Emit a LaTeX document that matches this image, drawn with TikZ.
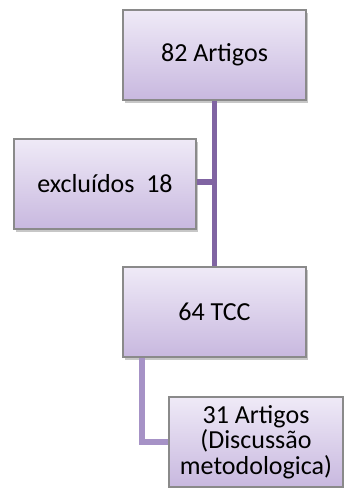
\documentclass[tikz,border=0pt]{standalone}
\usepackage{fontspec}
\setmainfont{Carlito}
\definecolor{boxtop}{HTML}{EFEAF7}
\definecolor{boxbot}{HTML}{C8B8DF}
\definecolor{boxedge}{HTML}{8A8A8A}
\definecolor{linkA}{HTML}{8064A2}
\definecolor{linkB}{HTML}{A692C6}
\tikzset{
  box/.style={draw=boxedge, line width=1.3pt, top color=boxtop, bottom color=boxbot,
    inner sep=0pt, align=center, font=\fontsize{26}{25.5}\selectfont,
    preaction={fill=black, fill opacity=0.22, transform canvas={xshift=1.5pt, yshift=-2.5pt}}},
  linkmain/.style={draw=linkA, line width=5.3pt},
  linklow/.style={draw=linkB, line width=5.3pt}
}
\begin{document}
\begin{tikzpicture}[x=1pt,y=-1pt]
\useasboundingbox[fill=white] (0,0) rectangle (344,488);
\node[box, minimum width=183pt, minimum height=90pt] (a) at (214.5,55) {82 Artigos};
\node[box, minimum width=182pt, minimum height=90pt] (e) at (105,184) {excluídos\ \ 18};
\node[box, minimum width=183pt, minimum height=90pt] (t) at (214.5,312) {64 TCC};
\node[box, minimum width=174pt, minimum height=90pt] (r) at (256,442) {31 Artigos\\(Discussão\\metodologica)};
\coordinate (j) at (214.5,182);
\coordinate (c) at (142,442);
\draw[linkmain] ([yshift=-0.65pt]a.south) -- ([yshift=0.65pt]t.north);
\draw[linkmain] ([xshift=0.65pt]e.east |- j) -- (j);
\draw[linklow] ([yshift=-0.65pt]t.south -| c) -- (c) -- ([xshift=-0.65pt]r.west);
\end{tikzpicture}
\end{document}
